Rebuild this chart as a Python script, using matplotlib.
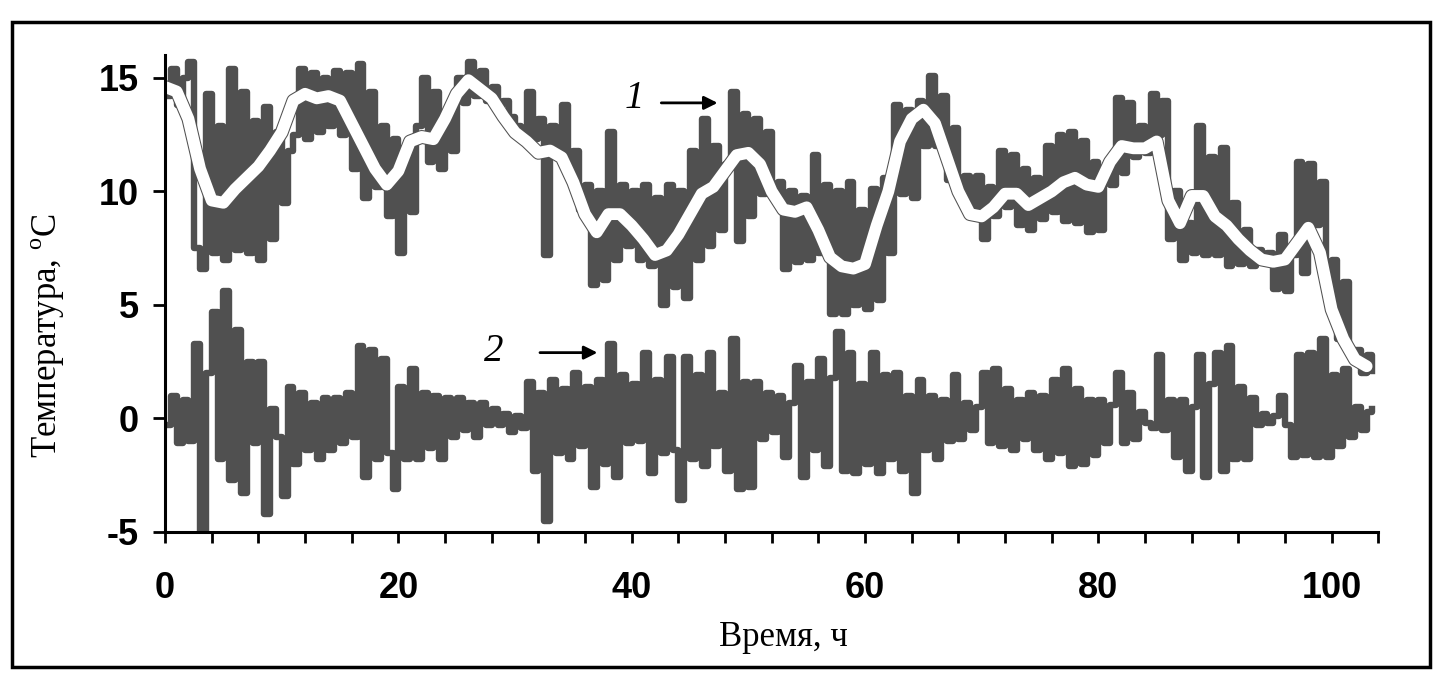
# temperatura: ряд 1 (с белой сглаженной кривой) и ряд 2 (остаток)

import numpy as np
import matplotlib
matplotlib.use('Agg')
import matplotlib.pyplot as plt
from matplotlib.patches import Rectangle

plt.rcParams['axes.unicode_minus'] = False

# ряд 1, шаг 0.5 ч
serie1 = [
    14.2, 15.4, 13.8, 15.0, 15.7, 7.5, 6.6, 14.3, 7.3, 12.9,
    7.0, 15.4, 7.4, 14.4, 7.3, 13.1, 7.0, 13.7, 7.9, 12.6,
    9.5, 11.8, 12.5, 15.4, 12.3, 15.2, 12.6, 15.0, 12.9, 15.3,
    12.5, 15.2, 11.0, 15.6, 9.7, 14.4, 10.2, 12.9, 8.9, 12.3,
    7.3, 11.6, 9.1, 12.9, 15.0, 11.3, 14.4, 11.0, 13.4, 11.8,
    15.0, 13.9, 15.7, 14.2, 15.3, 14.0, 14.6, 13.8, 14.0, 13.3,
    12.9, 12.3, 14.4, 12.3, 13.2, 7.2, 12.9, 11.5, 13.8, 10.7,
    11.8, 9.2, 10.3, 5.9, 10.0, 6.1, 12.6, 7.0, 10.3, 7.6,
    10.0, 7.0, 10.3, 6.7, 9.7, 5.0, 10.3, 5.8, 10.0, 5.3,
    11.8, 7.0, 13.2, 7.6, 12.0, 8.3, 11.2, 14.4, 7.8, 13.4,
    8.9, 13.2, 9.9, 12.6, 9.7, 10.4, 6.6, 10.0, 6.9, 9.8,
    7.0, 11.6, 7.3, 10.3, 4.6, 10.0, 4.6, 10.4, 5.0, 9.2,
    4.8, 10.1, 5.2, 10.6, 7.3, 13.8, 9.9, 13.6, 9.7, 14.0,
    12.0, 15.1, 12.0, 14.2, 10.5, 12.8, 10.0, 10.7, 9.1, 10.7,
    7.9, 10.2, 8.9, 11.8, 9.3, 11.6, 8.5, 11.0, 8.3, 10.6,
    8.8, 12.0, 9.1, 12.5, 8.7, 12.6, 8.6, 12.2, 8.2, 11.3,
    8.3, 10.8, 10.3, 14.1, 10.8, 13.9, 11.5, 12.9, 11.7, 14.3,
    12.5, 14.0, 7.9, 10.0, 7.0, 8.6, 7.3, 12.9, 7.2, 11.5,
    7.2, 11.9, 6.7, 9.5, 6.8, 8.3, 6.7, 7.4, 7.0, 7.3,
    5.7, 8.1, 5.6, 7.2, 11.3, 6.4, 11.2, 8.5, 10.4, 5.8,
    7.0, 3.5, 6.0, 2.9, 3.0, 2.0, 2.8, 2.1,
]

# ряд 2, шаг 0.5 ч
serie2 = [
    -0.3, 1.0, -1.1, 0.8, -1.0, 3.3, -5.1, 2.0, 4.7, -1.8,
    5.6, -2.7, 3.9, -3.3, 2.5, -1.1, 2.5, -4.2, 0.4, -0.8,
    -3.4, 1.4, -2.0, 1.1, -1.4, 0.7, -1.8, 0.9, -1.4, 0.9,
    -1.1, 1.1, -0.8, 3.2, -2.6, 3.0, -1.8, 2.6, -1.5, -3.1,
    1.4, -1.8, 2.2, -1.8, 1.1, -1.3, 1.0, -1.8, 0.9, -0.8,
    0.9, -0.5, 0.7, -0.8, 0.7, -0.3, 0.4, -0.3, 0.2, -0.6,
    0.1, -0.4, 1.6, -2.3, 1.1, -4.5, 1.7, -1.5, 1.3, -1.8,
    2.0, -1.2, 1.4, -3.0, 1.7, -2.0, 3.3, -2.6, 1.9, -1.1,
    1.5, -1.0, 2.9, -2.4, 1.7, -1.5, 2.7, -1.4, -3.6, 2.7,
    -1.8, 1.9, -2.1, 2.9, -1.2, 1.1, -2.3, 3.5, -3.1, 1.6,
    -3.0, 1.6, -0.9, 1.1, -0.6, 1.0, -1.7, 0.7, 2.3, -2.6,
    1.6, -1.4, 2.6, -2.1, 1.8, 3.8, -2.3, 2.9, -2.4, 1.5,
    -2.0, 2.9, -2.4, 1.9, -1.8, 2.0, -2.3, 1.0, -3.3, 1.7,
    -1.4, 1.0, -1.8, 0.8, -1.0, 1.9, -0.9, 0.7, -0.5, 0.5,
    2.0, -1.1, 2.2, -1.2, 1.3, -1.4, 0.8, -0.9, 1.1, -1.4,
    1.0, -1.8, 1.7, -1.5, 2.2, -2.1, 1.3, -2.0, 0.8, -1.6,
    0.8, -1.1, 0.6, 2.0, -1.1, 1.1, -0.9, 0.3, -0.2, -0.4,
    2.8, -0.5, 0.8, -1.7, 0.8, -2.3, 0.5, 2.8, -2.6, 1.5,
    2.9, -2.3, 3.2, -1.8, 1.4, -1.8, 0.9, -0.3, 0.2, -0.2,
    0.1, 1.0, -0.3, -1.7, 2.8, -1.6, 2.9, -1.7, 3.5, -1.7,
    1.9, -1.2, 2.2, -0.8, 0.5, -0.5, 0.3, 0.4,
]

# сглаженный ряд 1, шаг 1 ч
suave = [
    14.6, 14.4, 13.2, 11.0, 9.6, 9.5, 10.1, 10.6, 11.1, 11.8,
    12.6, 14.0, 14.3, 14.1, 14.2, 14.0, 13.0, 12.0, 11.0, 10.3,
    10.9, 12.2, 12.4, 12.3, 13.2, 14.3, 14.9, 14.5, 14.1, 13.3,
    12.6, 12.2, 11.7, 11.8, 11.5, 10.4, 9.0, 8.2, 9.0, 9.0,
    8.5, 7.9, 7.2, 7.4, 8.1, 9.0, 9.9, 10.2, 10.9, 11.6,
    11.7, 11.2, 10.0, 9.2, 9.1, 9.3, 8.3, 7.1, 6.7, 6.6,
    6.8, 8.5, 10.0, 12.2, 13.2, 13.6, 13.0, 11.5, 10.0, 9.0,
    8.9, 9.3, 9.9, 9.9, 9.4, 9.7, 10.0, 10.4, 10.6, 10.3,
    10.2, 11.3, 12.0, 11.9, 11.9, 12.2, 9.6, 8.6, 9.8, 9.8,
    8.9, 8.5, 7.9, 7.4, 7.0, 6.9, 7.0, 7.7, 8.4, 7.3,
    4.8, 3.5, 2.6, 2.3,
]

t1 = np.arange(len(serie1)) * 0.5
t2 = np.arange(len(serie2)) * 0.5
ts = np.arange(len(suave))

cinza = '#505050'

fig = plt.figure(figsize=(14.53, 6.9), dpi=100)
ax = fig.add_axes([0.1136, 0.229, 0.835, 0.691])

ax.plot(t1, serie1, color=cinza, lw=4.6, drawstyle='steps-post')
ax.plot(t2, serie2, color=cinza, lw=4.6, drawstyle='steps-post')
ax.plot(ts, suave, color=cinza, lw=10.0, solid_capstyle='round')
ax.plot(ts, suave, color='white', lw=8.5, solid_capstyle='round')

ax.set_xlim(0, 104)
ax.set_ylim(-5, 16)

ax.spines['top'].set_visible(False)
ax.spines['right'].set_visible(False)
for s in ['left', 'bottom']:
    ax.spines[s].set_linewidth(2.2)

xt = np.arange(0, 105, 4)
ax.set_xticks(xt)
ax.set_xticklabels([str(v) if v % 20 == 0 else '' for v in xt])
ax.set_yticks([-5, 0, 5, 10, 15])
ax.tick_params(axis='x', direction='out', length=8, width=2, pad=20)
ax.tick_params(axis='y', direction='out', length=9, width=2, pad=10)
for lab in ax.get_xticklabels() + ax.get_yticklabels():
    lab.set_family('Liberation Sans')
    lab.set_fontsize(26)
    lab.set_fontweight('bold')

# anotacoes 1 e 2
ax.text(40.2, 14.1, '1', family='Liberation Serif', style='italic',
        fontsize=28, ha='center', va='center')
ax.annotate('', xy=(47.6, 13.9), xytext=(42.3, 13.9),
            arrowprops=dict(arrowstyle='-|>', color='black', lw=2, mutation_scale=20))
ax.text(28.2, 2.95, '2', family='Liberation Serif', style='italic',
        fontsize=28, ha='center', va='center')
ax.annotate('', xy=(37.3, 2.9), xytext=(31.9, 2.9),
            arrowprops=dict(arrowstyle='-|>', color='black', lw=2, mutation_scale=20))

fig.text(783 / 1453, 1 - 637 / 690, 'Время, ч', family='Liberation Serif',
         fontsize=25, ha='center', va='center')
fig.text(48 / 1453, 1 - 336 / 690, 'Температура, $^{\\mathregular{o}}$C',
         family='Liberation Serif', fontsize=25, rotation=90,
         ha='center', va='center')

# moldura
fig.add_artist(Rectangle((0.0083, 0.033), 0.976, 0.935, transform=fig.transFigure,
                         fill=False, lw=2.5, ec='black'))

fig.savefig('out.png', dpi=100)
